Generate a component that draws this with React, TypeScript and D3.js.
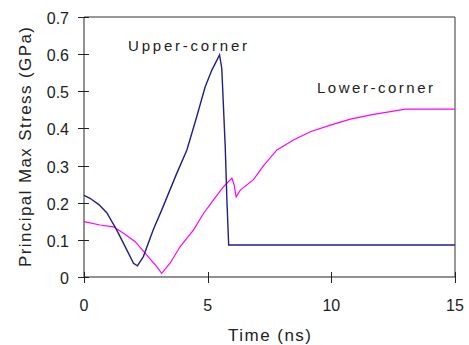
import * as d3 from 'd3';

// Upper-corner series (time in ns, stress in GPa)
const upperTime = [0, 0.24, 0.6, 0.92, 1.32, 1.73, 2.0, 2.16, 2.4, 2.8, 3.14, 3.75, 4.16, 4.56, 4.9, 5.17, 5.48, 5.57, 5.71, 5.78, 5.85, 15];
const upperStress = [0.22, 0.212, 0.195, 0.173, 0.127, 0.073, 0.037, 0.03, 0.055, 0.127, 0.18, 0.279, 0.342, 0.432, 0.512, 0.557, 0.598, 0.562, 0.351, 0.203, 0.086, 0.086];

// Lower-corner series
const lowerTime = [0, 0.65, 1.19, 1.6, 2.07, 2.54, 2.94, 3.14, 3.48, 3.89, 4.43, 4.83, 5.23, 5.64, 5.98, 6.07, 6.15, 6.32, 6.85, 7.26, 7.8, 8.47, 9.15, 9.96, 10.77, 11.71, 12.39, 13.0, 15];
const lowerStress = [0.149, 0.14, 0.135, 0.118, 0.095, 0.059, 0.028, 0.01, 0.037, 0.082, 0.127, 0.171, 0.207, 0.243, 0.266, 0.248, 0.216, 0.234, 0.262, 0.3, 0.342, 0.369, 0.391, 0.409, 0.425, 0.438, 0.445, 0.452, 0.452];

const xTicks = [0, 5, 10, 15];
const yTicks = [0, 0.1, 0.2, 0.3, 0.4, 0.5, 0.6, 0.7];

const App = () => {
  // chart box
  const left = 84, right = 455, top = 17, bottom = 277;

  const x = d3.scaleLinear().domain([0, 15]).range([left, right]);
  const y = d3.scaleLinear().domain([0, 0.7]).range([bottom, top]);

  const path = (ts: number[], vs: number[]) =>
    d3.line<number>().x((t) => x(t)).y((t, i) => y(vs[i]))(ts) as string;

  const font = '"Liberation Sans", Arial, sans-serif';
  const ink = '#222';

  return (
    <svg width={469} height={345} style={{ display: 'block', position: 'absolute', left: 0, top: 0 }}
      fontFamily={font}>
      <rect width={469} height={345} fill="#fff" />

      {/* frame */}
      <line x1={left} x2={right} y1={top} y2={top} stroke="#333" />
      <line x1={right} x2={right} y1={top} y2={bottom} stroke="#333" />
      <line x1={left} x2={left} y1={top} y2={bottom} stroke="#222" />
      <line x1={left} x2={right} y1={bottom} y2={bottom} stroke="#222" />

      {/* y axis */}
      {yTicks.map((t) => (
        <g key={'y' + t}>
          <line x1={left - 6} x2={left + 5} y1={Math.round(y(t)) + 0.5} y2={Math.round(y(t)) + 0.5} stroke="#222" />
          <text x={69} y={y(t) + 7} textAnchor="end" fontSize={16} fill={ink}>{t === 0 ? '0' : t.toFixed(1)}</text>
        </g>
      ))}

      {/* x axis */}
      {xTicks.map((t) => (
        <g key={'x' + t}>
          <line x1={Math.round(x(t)) + 0.5} x2={Math.round(x(t)) + 0.5} y1={bottom - 5} y2={bottom + 6} stroke="#222" />
          <text x={x(t)} y={311} textAnchor="middle" fontSize={16} fill={ink}>{t}</text>
        </g>
      ))}

      {/* series */}
      <path d={path(lowerTime, lowerStress)} fill="none" stroke="#ff00ff" strokeWidth={1.2} />
      <path d={path(upperTime, upperStress)} fill="none" stroke="#1f1f8a" strokeWidth={1.4} />

      {/* labels */}
      <text x={128} y={51} fontSize={15} fill={ink} textLength={119} lengthAdjust="spacing">Upper-corner</text>
      <text x={317} y={93} fontSize={15} fill={ink} textLength={116} lengthAdjust="spacing">Lower-corner</text>

      <text x={(left + right) / 2} y={341} textAnchor="middle" fontSize={17} fill={ink}
        textLength={83} lengthAdjust="spacing">Time (ns)</text>
      <text transform={`translate(31, ${(top + bottom) / 2}) rotate(-90)`} textAnchor="middle" fontSize={17} fill={ink}
        textLength={240} lengthAdjust="spacing">Principal Max Stress (GPa)</text>
    </svg>
  );
};

export default App;
